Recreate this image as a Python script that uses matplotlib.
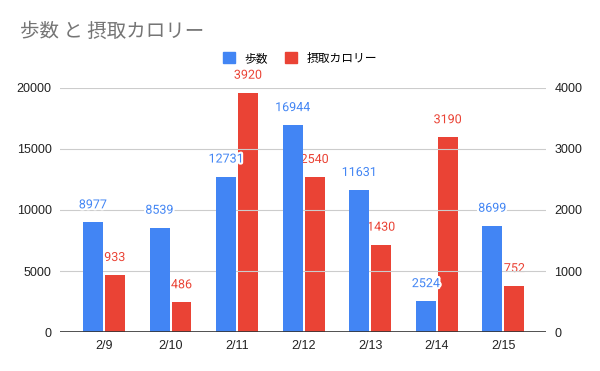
import matplotlib.pyplot as plt
import matplotlib.patheffects as pe
import numpy as np

plt.rcParams['font.family'] = ['Noto Sans CJK JP', 'DejaVu Sans']

dates = ['2/9', '2/10', '2/11', '2/12', '2/13', '2/14', '2/15']
steps = [8977, 8539, 12731, 16944, 11631, 2524, 8699]
calories = [933, 486, 3920, 2540, 1430, 3190, 752]

blue = '#4285f4'
red = '#ea4335'

fig = plt.figure(figsize=(6, 3.71), dpi=100)
ax = fig.add_axes([0.1, 0.105, 0.81, 0.658])
ax2 = ax.twinx()

x = np.arange(len(dates))
w = 0.3
b1 = ax.bar(x - w / 2 - 0.015, steps, w, color=blue, zorder=2)
b2 = ax2.bar(x + w / 2 + 0.015, calories, w, color=red, zorder=2)

# 値ラベル（白い縁取り付き）
halo = [pe.withStroke(linewidth=3, foreground='white')]
for bar, v in zip(b1, steps):
    ax.annotate(str(v), (bar.get_x() + bar.get_width() / 2, v), xytext=(0, 8),
                textcoords='offset points', ha='center', va='bottom',
                color=blue, fontsize=9, family='Roboto', path_effects=halo, zorder=5)
for bar, v in zip(b2, calories):
    ax2.annotate(str(v), (bar.get_x() + bar.get_width() / 2, v), xytext=(0, 8),
                 textcoords='offset points', ha='center', va='bottom',
                 color=red, fontsize=9, family='Roboto', path_effects=halo, zorder=5)

ax.set_ylim(0, 20000)
ax2.set_ylim(0, 4000)
ax.set_yticks([0, 5000, 10000, 15000, 20000])
ax2.set_yticks([0, 1000, 2000, 3000, 4000])
ax.set_xlim(-0.66, 6.64)
ax.set_xticks(x)
ax.set_xticklabels(dates)

ax.grid(axis='y', color='#cccccc', linewidth=0.8, zorder=0)
ax.set_axisbelow(True)
for a in (ax, ax2):
    for s in ('top', 'left', 'right', 'bottom'):
        a.spines[s].set_visible(False)
    a.tick_params(length=0, labelsize=9, colors='#222222', pad=6)
    for lbl in a.get_xticklabels() + a.get_yticklabels():
        lbl.set_family('Liberation Sans')
ax.axhline(0, color='#333333', linewidth=1.2, zorder=3)
ax.set_zorder(ax2.get_zorder() + 1)
ax.patch.set_visible(False)

fig.text(0.033, 0.915, '歩数 と 摂取カロリー', fontsize=14, color='#757575', va='center')

handles = [plt.Rectangle((0, 0), 1, 1, color=blue), plt.Rectangle((0, 0), 1, 1, color=red)]
fig.legend(handles, ['歩数', '摂取カロリー'], loc='center', bbox_to_anchor=(0.5, 0.843),
           ncol=2, frameon=False, fontsize=8.5, handlelength=1, handleheight=1,
           columnspacing=1.5, handletextpad=0.8)

plt.savefig('out.png', dpi=100)
